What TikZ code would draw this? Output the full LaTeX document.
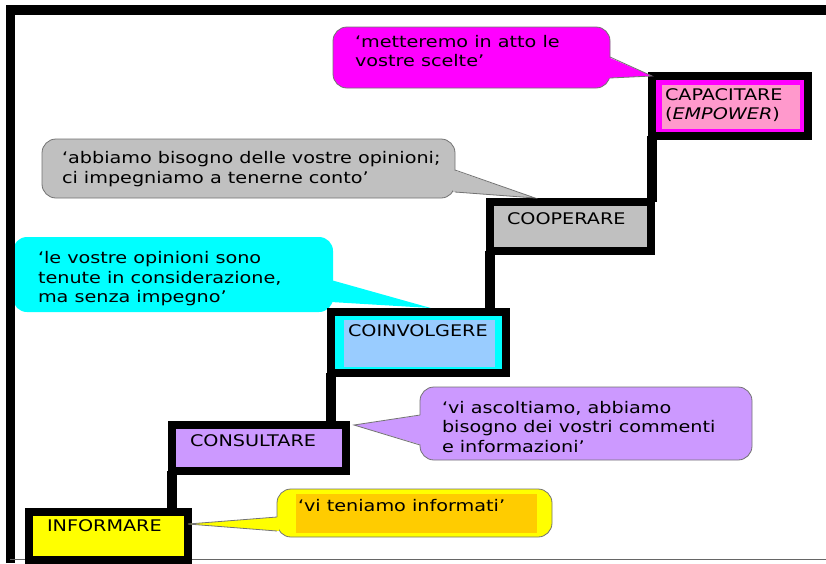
\documentclass[tikz,border=0pt]{standalone}
\usepackage{fontspec}
\setmainfont[FakeStretch=1.2]{DejaVu Sans}
\usetikzlibrary{calc}
\definecolor{magC}{HTML}{FF00FF}
\definecolor{pinkC}{HTML}{FF99CC}
\definecolor{grayC}{HTML}{C0C0C0}
\definecolor{cyanC}{HTML}{00FFFF}
\definecolor{lblueC}{HTML}{99CCFF}
\definecolor{lavC}{HTML}{CC99FF}
\definecolor{yelC}{HTML}{FFFF00}
\definecolor{orC}{HTML}{FFCC00}
\begin{document}
\begin{tikzpicture}[x=1pt,y=-1pt,
  stepbox/.style={draw=black, line width=8pt, inner sep=0pt, outer sep=0pt},
  riser/.style={draw=black, line width=9.5pt},
  callbox/.style={draw=black!55, line width=0.8pt, rounded corners=14pt, inner sep=0pt, outer sep=0pt},
  calltail/.style={draw=black!55, line width=0.8pt},
  lbl/.style={font=\fontsize{16}{19.5}\selectfont, align=left, anchor=west, inner sep=0pt, outer sep=0pt}
]
\useasboundingbox (0,0) rectangle (826,563);
\fill[white] (0,0) rectangle (826,563);

% ---- callouts (shapes)
\node[callbox, fill=magC, minimum width=277pt, minimum height=61pt] (cmag) at (471.5,57.5) {};
\node[callbox, fill=grayC, minimum width=413pt, minimum height=59pt] (cgray) at (248.5,168.5) {};
\node[callbox, draw=none, fill=cyanC, minimum width=320pt, minimum height=75pt] (ccyan) at (173,274.5) {};
\node[callbox, fill=lavC, minimum width=332pt, minimum height=73pt] (clav) at (586,423.5) {};
\node[callbox, fill=yelC, minimum width=275pt, minimum height=48pt] (cyel) at (414.5,513) {};
\fill[orC] ($(cyel.north west)+(19,5)$) rectangle ($(cyel.south east)+(-15,-4)$);

% ---- frame
\draw[line width=9.5pt] (10.5,563) -- (10.5,10) -- (826,10);
\draw[black!60, line width=1pt] (10,559.5) -- (826,559.5);

% ---- steps
\node[stepbox, fill=yelC, minimum width=159pt, minimum height=48pt] (informare) at (108.5,536) {};
\node[stepbox, fill=lavC, minimum width=174pt, minimum height=46pt] (consultare) at (259,448) {};
\node[stepbox, fill=cyanC, minimum width=175pt, minimum height=61pt] (coinvolgere) at (418.5,342.5) {};
\fill[lblueC] ($(coinvolgere.north west)+(13,8)$) rectangle ($(coinvolgere.south east)+(-11,-6)$);
\node[stepbox, fill=grayC, minimum width=161pt, minimum height=49pt] (cooperare) at (570.5,226.5) {};
\node[stepbox, fill=magC, minimum width=156pt, minimum height=60pt] (capacitare) at (730,106) {};
\fill[pinkC] ($(capacitare.north west)+(10,9)$) rectangle ($(capacitare.south east)+(-8,-7)$);

% ---- risers
\draw[riser] (consultare.south west) -- (consultare.south west |- informare.north);
\draw[riser] (coinvolgere.south west) -- (coinvolgere.south west |- consultare.north);
\draw[riser] (cooperare.south west) -- (cooperare.south west |- coinvolgere.north);
\draw[riser] (capacitare.south west) -- (capacitare.south west |- cooperare.north);

% ---- callout tails
\fill[magC] ($(cmag.north east)+(-2,30)$) -- (capacitare.north west) -- ($(cmag.north east)+(-2,51)$) -- cycle;
\draw[calltail] ($(cmag.north east)+(0,30)$) -- (capacitare.north west) -- ($(cmag.north east)+(0,51)$);

\coordinate (tipgray) at ($(cooperare.north west)!0.28!(cooperare.north east)+(0,-4)$);
\fill[grayC] ($(cgray.north east)+(-2,31)$) -- (tipgray) -- ($(cgray.north east)+(-2,53)$) -- cycle;
\draw[calltail] ($(cgray.north east)+(0,31)$) -- (tipgray) -- ($(cgray.north east)+(0,53)$);

\coordinate (tipcyan) at ($(coinvolgere.north west)!0.57!(coinvolgere.north east)+(0,-4)$);
\fill[cyanC] ($(ccyan.north east)+(-2,43)$) -- (tipcyan) -- ($(ccyan.north east)+(-2,65)$) -- cycle;

\coordinate (tiplav) at ($(consultare.north east)+(8,0)$);
\fill[lavC] ($(clav.north west)+(2,28)$) -- (tiplav) -- ($(clav.north west)+(2,58)$) -- cycle;
\draw[calltail] ($(clav.north west)+(0,28)$) -- (tiplav) -- ($(clav.north west)+(0,58)$);

\coordinate (tipyel) at ($(informare.north east)+(0,12)$);
\fill[yelC] ($(cyel.north west)+(2,28)$) -- (tipyel) -- ($(cyel.north west)+(2,42)$) -- cycle;
\draw[calltail] ($(cyel.north west)+(0,28)$) -- (tipyel) -- ($(cyel.north west)+(0,42)$);

% ---- texts
\node[lbl] (tinf) at (47,526) {INFORMARE};
\node[lbl] (tcons) at (190,441) {CONSULTARE};
\node[lbl] (tcoin) at (348,331) {COINVOLGERE};
\node[lbl] (tcoop) at (507,219) {COOPERARE};
\node[lbl] (tcap) at (665,105) {CAPACITARE\\(\textit{EMPOWER})};

\node[lbl] (tmag) at (355,51) {‘metteremo in atto le\\vostre scelte’};
\node[lbl] (tgray) at (62,169) {‘abbiamo bisogno delle vostre opinioni;\\ci impegniamo a tenerne conto’};
\node[lbl] (tcyan) at (38,279) {‘le vostre opinioni sono\\tenute in considerazione,\\ma senza impegno’};
\node[lbl] (tlav) at (442,427) {‘vi ascoltiamo, abbiamo\\bisogno dei vostri commenti\\e informazioni’};
\node[lbl] (tyel) at (298,506) {‘vi teniamo informati’};
\end{tikzpicture}
\end{document}
